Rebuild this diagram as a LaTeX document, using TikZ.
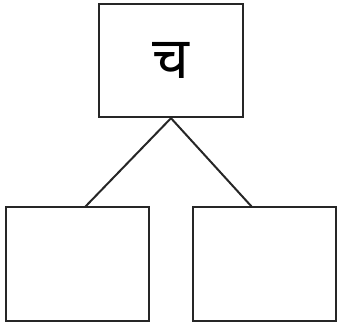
\documentclass[tikz,border=0pt]{standalone}
\usepackage{fontspec}
\newfontfamily\devfont[Script=Devanagari]{Noto Sans}
\begin{document}
\begin{tikzpicture}[x=1pt,y=-1pt,
  box/.style={draw=black!85,line width=2.3pt,fill=white,inner sep=0pt},
  link/.style={draw=black!85,line width=2pt}]
\useasboundingbox (0,0) rectangle (338,325);
\node[box,minimum width=144pt,minimum height=113pt] (tb) at (171,60.5) {};
\node (t) at (171,60.5) {\devfont\fontsize{58}{62}\selectfont च};
\node[box,minimum width=143pt,minimum height=114pt] (lb) at (77.5,264) {};
\node[box,minimum width=143pt,minimum height=114pt] (rb) at (264.5,264) {};
\coordinate (l) at (85,207);
\coordinate (r) at (252,207);
\draw[link] (tb.south) -- (l);
\draw[link] (tb.south) -- (r);
\end{tikzpicture}
\end{document}
